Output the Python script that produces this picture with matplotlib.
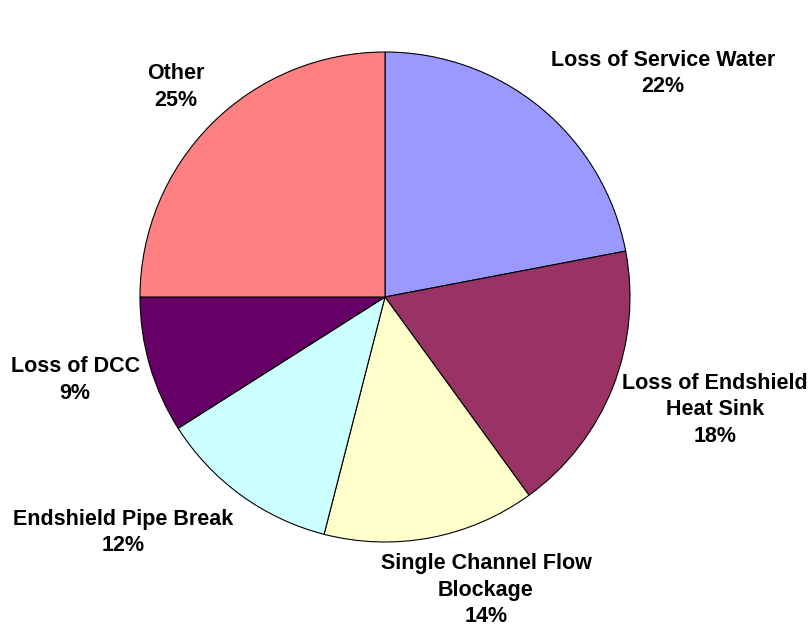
import matplotlib.pyplot as plt

# --- data ---
categories = ["Loss of Service Water", "Loss of Endshield\nHeat Sink",
              "Single Channel Flow\nBlockage", "Endshield Pipe Break",
              "Loss of DCC", "Other"]
shares = [22, 18, 14, 12, 9, 25]
colors = ["#9999FF", "#993366", "#FFFFCC", "#CCFFFF", "#660066", "#FF8080"]

# label centres, in pie radii from the centre
label_xy = [(1.135, 0.914), (1.347, -0.461), (0.412, -1.196),
            (-1.069, -0.963), (-1.265, -0.339), (-0.853, 0.857)]

plt.rcParams["font.family"] = ["Liberation Sans", "DejaVu Sans"]

W, H = 811, 628
cx, cy, R = 385, 297, 245  # pixel centre and radius

fig = plt.figure(figsize=(W / 100, H / 100), dpi=100)
ax = fig.add_axes([0, 0, 1, 1])

ax.pie(shares, colors=colors, startangle=90, counterclock=False, radius=1,
       wedgeprops=dict(edgecolor="black", linewidth=0.8))

ax.set_xlim(-cx / R, (W - cx) / R)
ax.set_ylim(-(H - cy) / R, cy / R)
ax.set_aspect("auto")
ax.axis("off")

for name, val, (x, y) in zip(categories, shares, label_xy):
    ax.text(x, y, f"{name}\n{val}%", ha="center", va="center",
            fontsize=15.5, fontweight="bold", linespacing=1.32)

plt.savefig("out.png", dpi=100)
